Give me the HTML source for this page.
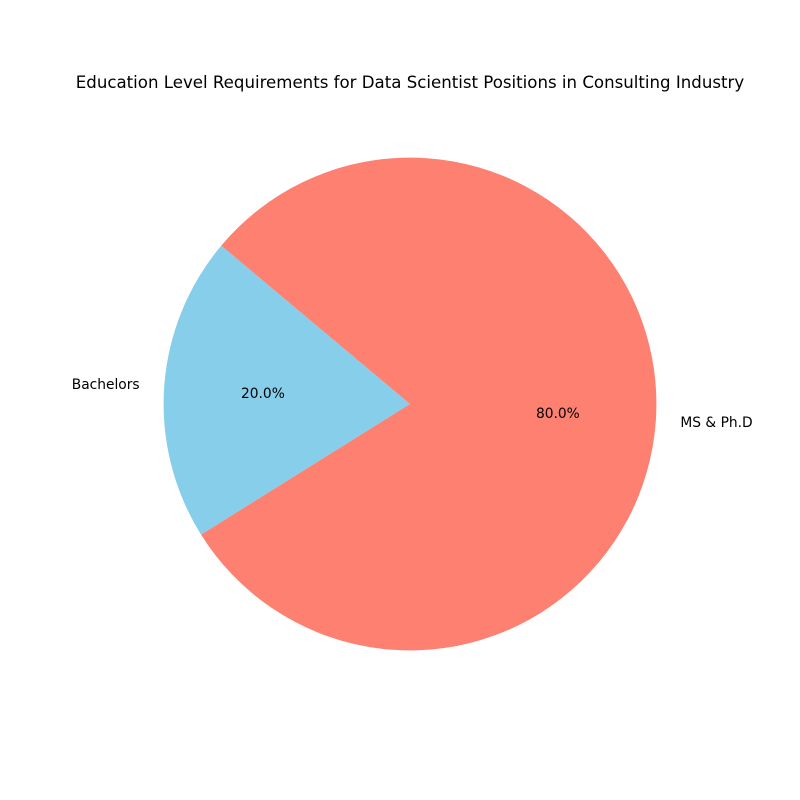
<!DOCTYPE html>
<html>
<head>
<meta charset="utf-8">
<style>
html,body{margin:0;padding:0;background:#fff;}
svg{display:block;}
text{font-family:"DejaVu Sans",sans-serif;fill:#000;}
</style>
</head>
<body>
<svg id="chart" width="800" height="800" viewBox="0 0 800 800" xmlns="http://www.w3.org/2000/svg">
<rect width="800" height="800" fill="#ffffff"/>
<text x="410" y="88" text-anchor="middle" font-size="16.62">Education Level Requirements for Data Scientist Positions in Consulting Industry</text>
<g id="slices"></g>
<g id="labels"></g>
</svg>
<script>
const categories = ['Bachelors', 'MS & Ph.D'];
const values = [20, 80];
const colors = ['#87ceeb', '#fd8071'];

const NS = 'http://www.w3.org/2000/svg';
const cx = 410, cy = 404, radius = 246.4, startAngle = 140;
const total = values.reduce((a, b) => a + b, 0);

function point(angleDeg, r) {
  const a = angleDeg * Math.PI / 180;
  return [cx + r * Math.cos(a), cy - r * Math.sin(a)];
}
function addText(parent, x, y, anchor, content) {
  const t = document.createElementNS(NS, 'text');
  t.setAttribute('x', x);
  t.setAttribute('y', Math.floor(y + 4.5));
  t.setAttribute('text-anchor', anchor);
  t.setAttribute('font-size', '13.8');
  t.textContent = content;
  parent.appendChild(t);
  return t;
}

const sliceGroup = document.getElementById('slices');
const labelGroup = document.getElementById('labels');
let angle = startAngle;
categories.forEach((name, i) => {
  const sweep = values[i] / total * 360;
  const end = angle + sweep;
  const mid = angle + sweep / 2;
  const p0 = point(angle, radius);
  const p1 = point(end, radius);
  const path = document.createElementNS(NS, 'path');
  path.setAttribute('d', `M${cx} ${cy} L${p0[0]} ${p0[1]} A${radius} ${radius} 0 ${sweep > 180 ? 1 : 0} 0 ${p1[0]} ${p1[1]} Z`);
  path.setAttribute('fill', colors[i]);
  
  
  sliceGroup.appendChild(path);

  const lp = point(mid, radius * 1.1);
  const lab = addText(labelGroup, lp[0], lp[1], lp[0] < cx ? 'end' : 'start', name);
  
  

  const pp = point(mid, radius * 0.6);
  const pct = addText(labelGroup, pp[0] + 0.4, pp[1], 'middle', (values[i] / total * 100).toFixed(1) + '%');
  
  

  angle = end;
});
</script>
</body>
</html>
